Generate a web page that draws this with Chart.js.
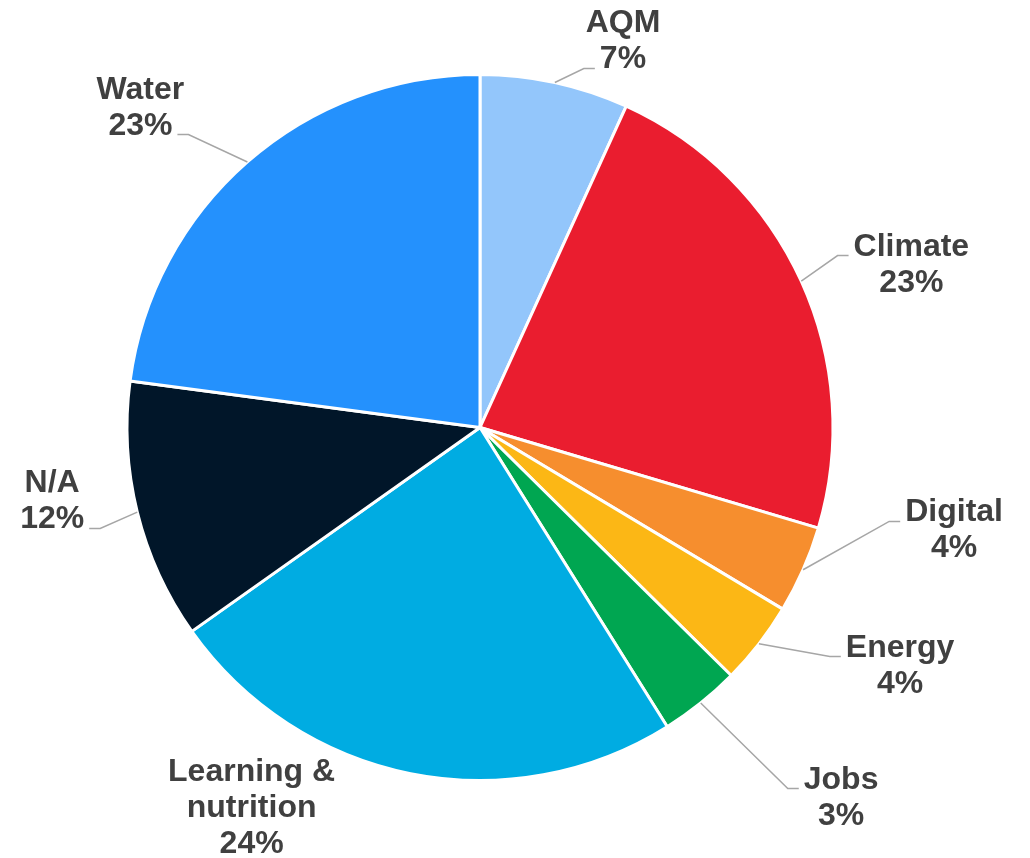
<!DOCTYPE html>
<html>
<head>
<meta charset="utf-8">
<script src="https://cdn.jsdelivr.net/npm/chart.js@4/dist/chart.umd.min.js"></script>
<style>
  html, body { margin: 0; padding: 0; background: #ffffff; }
  #wrap { width: 1030px; height: 858px; position: relative; }
</style>
</head>
<body>
<div id="wrap"><canvas id="pieChart"></canvas></div>
<script>
// slice data, clockwise from 12 o'clock
const categories = ['AQM', 'Climate', 'Digital', 'Energy', 'Jobs', 'Learning & nutrition', 'N/A', 'Water'];
const labelLines = [['AQM'], ['Climate'], ['Digital'], ['Energy'], ['Jobs'], ['Learning &', 'nutrition'], ['N/A'], ['Water']];
const shares = [6.8, 22.8, 4.0, 3.8, 3.7, 24.1, 11.9, 22.9];
const shareLabels = ['7%', '23%', '4%', '4%', '3%', '24%', '12%', '23%'];
const sliceColors = ['#93C6FB', '#EA1D2F', '#F68E2E', '#FCB715', '#00A651', '#00ACE2', '#011629', '#2491FD'];

// label block spots, relative to pie centre in radius units (x = centre of text, y = first baseline)
// hook = which text line the leader line attaches to (null = no leader)
const labelSpots = [
    { dx: 0.405, dy: -1.119, hook: 1 },
    { dx: 1.222, dy: -0.487, hook: 0 },
    { dx: 1.343, dy: 0.266, hook: 0 },
    { dx: 1.190, dy: 0.649, hook: 0 },
    { dx: 1.023, dy: 1.023, hook: 0 },
    { dx: -0.647, dy: 1.000, hook: null },
    { dx: -1.212, dy: 0.184, hook: 1 },
    { dx: -0.962, dy: -0.932, hook: 1 }
];

const outsideLabels = {
    id: 'outsideLabels',
    afterDraw(chart) {
        const ctx = chart.ctx;
        const arcs = chart.getDatasetMeta(0).data;
        const lineGap = 36;
        ctx.save();
        ctx.font = 'bold 32px "Liberation Sans", Arial, sans-serif';
        ctx.textAlign = 'center';
        ctx.textBaseline = 'alphabetic';
        arcs.forEach((arc, i) => {
            const { x, y, outerRadius, startAngle, endAngle } = arc.getProps(['x', 'y', 'outerRadius', 'startAngle', 'endAngle'], true);
            const spot = labelSpots[i];
            const lx = x + spot.dx * outerRadius;
            const ly = y + spot.dy * outerRadius;
            const lines = labelLines[i].concat([shareLabels[i]]);

            if (spot.hook !== null) {
                const mid = (startAngle + endAngle) / 2;
                const sx = x + Math.cos(mid) * outerRadius;
                const sy = y + Math.sin(mid) * outerRadius;
                const hookW = ctx.measureText(lines[spot.hook]).width;
                const hy = ly + spot.hook * lineGap;
                const toRight = lx > sx;
                const ex = toRight ? lx - hookW / 2 - 5 : lx + hookW / 2 + 5;
                const bx = toRight ? ex - 11 : ex + 11;
                ctx.strokeStyle = '#A6A6A6';
                ctx.lineWidth = 1.5;
                ctx.beginPath();
                ctx.moveTo(sx, sy);
                ctx.lineTo(bx, hy);
                ctx.lineTo(ex, hy);
                ctx.stroke();
            }

            ctx.fillStyle = '#404040';
            lines.forEach((t, k) => {
                ctx.fillText(t, lx, ly + k * lineGap);
            });
        });
        ctx.restore();
    }
};

function buildPie() {
    const ctx = document.getElementById('pieChart').getContext('2d');
    new Chart(ctx, {
        type: 'pie',
        data: {
            labels: categories,
            datasets: [{
                data: shares,
                backgroundColor: sliceColors,
                borderColor: '#ffffff',
                borderWidth: 3
            }]
        },
        options: {
            responsive: true,
            maintainAspectRatio: false,
            animation: false,
            layout: { padding: { top: 73, bottom: 76, left: 0, right: 70 } },
            plugins: {
                legend: { display: false },
                tooltip: { enabled: false }
            }
        },
        plugins: [outsideLabels]
    });
}

window.onload = buildPie;
</script>
</body>
</html>
